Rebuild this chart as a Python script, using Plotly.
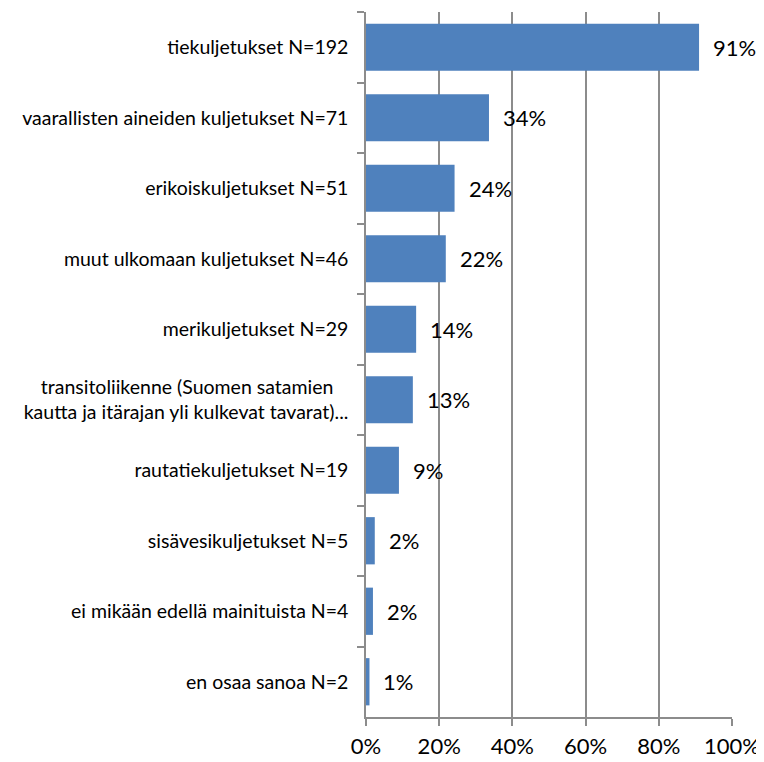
import plotly.graph_objects as go

categories = [
    "tiekuljetukset N=192",
    "vaarallisten aineiden kuljetukset N=71",
    "erikoiskuljetukset N=51",
    "muut ulkomaan kuljetukset N=46",
    "merikuljetukset N=29",
    "transitoliikenne (Suomen satamien\u00a0\u00a0\u00a0<br>kautta ja itärajan yli kulkevat tavarat)...",
    "rautatiekuljetukset N=19",
    "sisävesikuljetukset N=5",
    "ei mikään edellä mainituista N=4",
    "en osaa sanoa N=2",
]
values = [0.91, 0.336, 0.242, 0.218, 0.137, 0.128, 0.09, 0.024, 0.019, 0.0095]
labels = ["91%", "34%", "24%", "22%", "14%", "13%", "9%", "2%", "2%", "1%"]
tick_vals = [0, 0.2, 0.4, 0.6, 0.8, 1.0]
tick_text = ["0%", "20%", "40%", "60%", "80%", "100%"]

font_family = "Lato, Open Sans, Noto Sans, sans-serif"

fig = go.Figure(go.Bar(
    x=values, y=categories, orientation="h",
    marker=dict(color="#4F81BD", line=dict(width=0)),
    hoverinfo="skip",
))

for c, v, t in zip(categories, values, labels):
    fig.add_annotation(x=v, y=c, text=t, showarrow=False, xanchor="left",
                       xshift=12, font=dict(size=22, color="#000000", family=font_family))

# page body has an 8px default margin; figure sized to fit the 764x762 window
fig.update_layout(
    width=756, height=754,
    margin=dict(l=358, r=32, t=4, b=45),
    plot_bgcolor="white", paper_bgcolor="white",
    bargap=0.33,
    showlegend=False,
    font=dict(family=font_family, color="#000000"),
)
fig.update_xaxes(
    range=[0, 1.0], tickvals=tick_vals, ticktext=tick_text, automargin=False,
    showgrid=True, gridcolor="#8C8C8C", gridwidth=1.5,
    showline=True, linecolor="#8C8C8C", linewidth=1.5,
    ticks="outside", ticklen=7, tickcolor="#8C8C8C", tickwidth=1.5,
    tickfont=dict(size=22, color="#000000"), zeroline=False,
    ticklabelstandoff=2,
)
fig.update_yaxes(
    autorange="reversed", tickson="boundaries", automargin=False,
    showline=True, linecolor="#8C8C8C", linewidth=1.5,
    ticks="outside", ticklen=7, tickcolor="#8C8C8C", tickwidth=1.5,
    tickfont=dict(size=19.5, color="#000000"), showgrid=False,
    ticklabelstandoff=12,
)

fig.write_html("out.html")
